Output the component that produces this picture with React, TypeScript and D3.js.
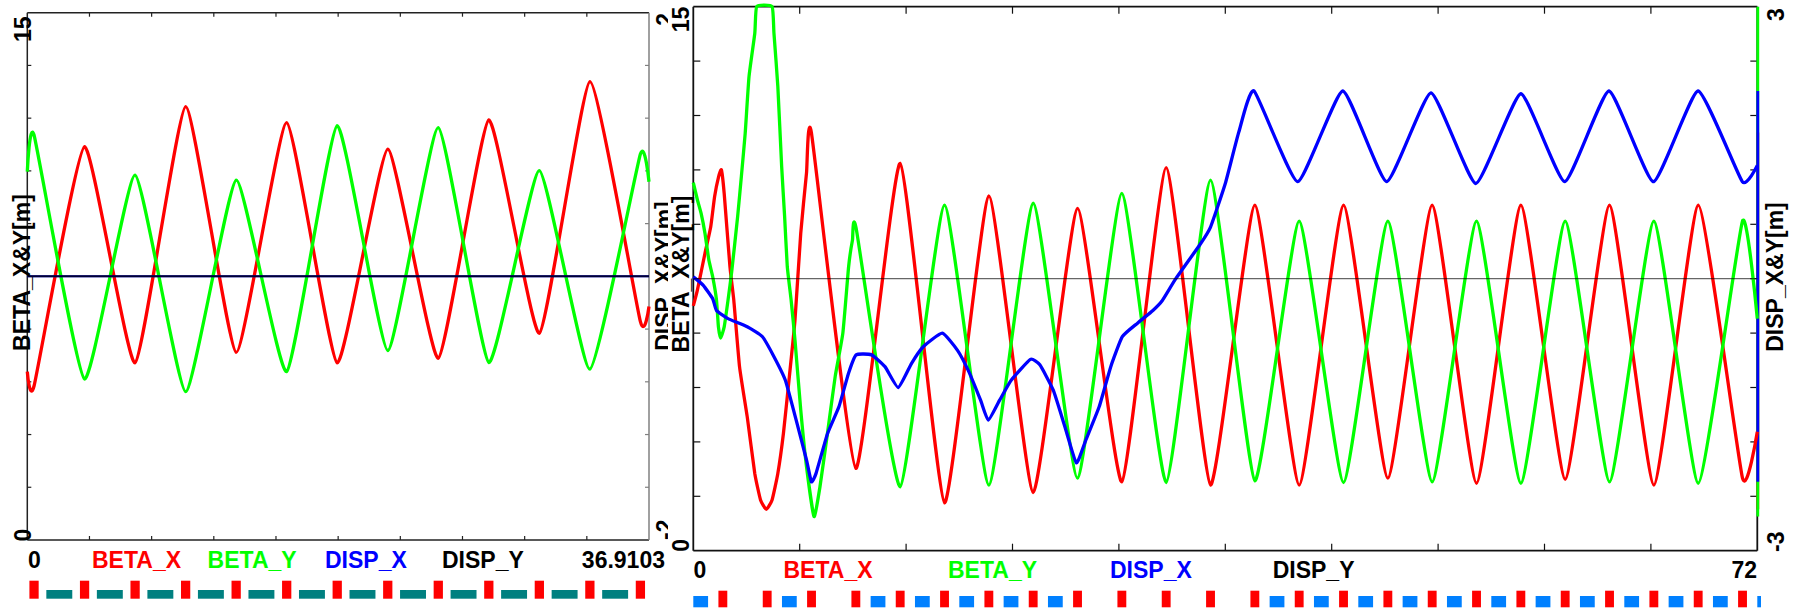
import React from "react";
import * as d3 from "d3";

type Pt = [number, number];

const W = 1794;
const H = 610;
const FONT = "'Liberation Sans', Arial, Helvetica, sans-serif";

// ---------- common legend / colours ----------
const seriesNames = ["BETA_X", "BETA_Y", "DISP_X", "DISP_Y"];
const seriesColors = ["#ff0000", "#00ff00", "#0000ff", "#000000"];
const betaAxisTitle = "BETA_X&Y[m]";
const dispAxisTitle = "DISP_X&Y[m]";

// ---------- left cell (periodic FODO, 36.9103 m) ----------
const leftLength = 36.9103;
const leftEndLabel = "36.9103";
const leftBetaTicks = ["0", "15"];
const leftDispTicks = ["-2", "2"];
const leftQuadCenters = [0.4, 3.4, 6.4, 9.4, 12.4, 15.4, 18.4, 21.4, 24.4, 27.4, 30.4, 33.4, 36.4];
const leftBendCenters = [1.9, 4.9, 7.9, 10.9, 13.9, 16.9, 19.9, 22.9, 25.9, 28.9, 31.9, 34.9];
const leftBetaX: Pt[] = [
  [0, 4.79], [0.4, 4.38], [3.4, 11.19], [6.4, 5.04], [9.4, 12.33], [12.4, 5.34],
  [15.4, 11.87], [18.4, 5.04], [21.4, 11.12], [24.4, 5.17], [27.4, 11.95],
  [30.4, 5.88], [33.4, 13.04], [36.4, 6.21], [36.91, 6.64],
];
const leftBetaY: Pt[] = [
  [0, 10.48], [0.4, 11.52], [3.4, 4.58], [6.4, 10.38], [9.4, 4.22], [12.4, 10.24],
  [15.4, 4.79], [18.4, 11.79], [21.4, 5.39], [24.4, 11.73], [27.4, 5.05],
  [30.4, 10.51], [33.4, 4.86], [36.4, 10.98], [36.91, 10.19],
];
const leftDispX: Pt[] = [[0, 0], [36.9103, 0]];
const leftDispY: Pt[] = [[0, 0], [36.9103, 0]];

// ---------- right line (72 m) ----------
const rightLength = 72;
const rightEndLabel = "72";
const rightBetaTicks = ["0", "15"];
const rightDispTicks = ["-3", "3"];
const rightQuadCenters = [2, 5, 8, 11, 14, 17, 20, 23, 26, 29, 32, 35, 38, 41, 44, 47, 50, 53, 56, 59, 62, 65, 68, 71];
const rightBendCenters = [0.5, 6.5, 12.5, 15.5, 18.5, 21.5, 24.5, 39.5, 42.5, 45.5, 48.5, 51.5, 54.5, 57.5, 60.5, 63.5, 66.5, 69.5, 72.5];
const rightBetaX: Pt[] = [
  [0, 6.75], [0.28, 7.19], [0.79, 8.2], [1.18, 8.93], [1.44, 9.76], [1.71, 10.31], [1.9, 10.5],
  [2.09, 9.85], [2.48, 7.83], [2.74, 6.91], [3.13, 5.07], [3.65, 3.69], [4.16, 2.13], [4.55, 1.4],
  [4.94, 1.14], [5.33, 1.4], [5.72, 2.13], [6.1, 3.24], [6.5, 4.8], [6.88, 6.36], [7.27, 8.75],
  [7.66, 10.41], [7.99, 11.53],
  [11, 2.27], [14, 10.68], [17, 1.32], [20, 9.78], [23, 1.6], [26, 9.44], [29, 1.9], [32, 10.56],
  [35, 1.81], [38, 9.53], [41, 1.81], [44, 9.53], [47, 2.0], [50, 9.53], [53, 1.86], [56, 9.53],
  [59, 1.97], [62, 9.53], [65, 1.81], [68, 9.53], [71, 2.0], [72, 3.28],
];
const rightBetaY: Pt[] = [
  [0, 10.15], [0.28, 9.67], [0.53, 9.3], [0.79, 8.75], [1.05, 8.02], [1.31, 7.56], [1.57, 6.91],
  [1.7, 6.17], [1.85, 5.86], [2.09, 6.17], [2.35, 6.91], [2.6, 7.7], [3.0, 9.21], [3.25, 10.31],
  [3.51, 11.5], [3.77, 13.07], [4.16, 14.26], [4.29, 15], [5.33, 15], [5.46, 14.26], [5.72, 12.8],
  [5.98, 10.59], [6.18, 9.21], [6.36, 7.83], [6.62, 6.91], [6.88, 5.81], [7.27, 3.88], [7.66, 2.32],
  [8.17, 0.94], [8.57, 1.76], [9.08, 3.24], [9.6, 4.8], [10.12, 6.0], [10.51, 7.83], [10.77, 8.56],
  [11.02, 8.89],
  [14, 1.76], [17, 9.53], [20, 1.81], [23, 9.58], [26, 2.0], [29, 9.85], [32, 1.88], [35, 10.22],
  [38, 1.93], [41, 9.09], [44, 1.88], [47, 9.09], [50, 1.9], [53, 9.09], [56, 1.86], [59, 9.09],
  [62, 1.9], [65, 9.09], [68, 1.86], [71, 9.09], [72, 6.4],
];
const rightDispX: Pt[] = [
  [0, 0.02], [0.66, -0.07], [1.31, -0.22], [1.57, -0.35], [2.35, -0.44], [3.65, -0.53], [4.68, -0.64],
  [5.46, -0.86], [6.23, -1.12], [7.01, -1.59], [7.66, -2.0], [7.99, -2.24], [8.3, -2.15], [9.08, -1.71],
  [9.86, -1.41], [10.51, -1.04], [11.02, -0.84], [12.06, -0.84], [12.97, -0.97], [13.87, -1.2],
  [14.78, -0.93], [15.56, -0.75], [16.85, -0.6], [17.88, -0.79], [18.66, -1.03], [19.44, -1.34],
  [19.96, -1.56], [20.73, -1.34], [21.51, -1.12], [22.81, -0.89], [23.45, -0.95], [24.36, -1.23],
  [25.14, -1.63], [25.92, -2.03], [26.56, -1.78], [27.47, -1.41], [28.25, -0.97], [29.03, -0.64],
  [30.06, -0.49], [31.1, -0.35], [31.74, -0.24], [32.65, 0.0], [34.3, 0.38], [35.0, 0.57],
  [36.0, 1.05], [36.92, 1.62], [37.95, 2.07], [40.9, 1.07], [43.95, 2.07], [46.92, 1.07],
  [49.92, 2.05], [52.95, 1.05], [56.0, 2.04], [58.97, 1.07], [61.96, 2.07], [64.97, 1.07],
  [67.99, 2.07], [70.99, 1.07], [72, 1.25],
];
const rightDispY: Pt[] = [[0, 0], [72, 0]];

// ---------- panel layout ----------
type Frame = { left: number; right: number; top: number; bottom: number };

interface PanelCfg {
  frame: Frame;
  length: number;
  betaMax: number;
  dispMax: number;
  betaX: Pt[];
  betaY: Pt[];
  dispX: Pt[];
  dispY: Pt[];
  quads: number[];
  bends: number[];
  quadLen: number;
  bendLen: number;
  quadBox: [number, number];
  bendBox: [number, number];
  bendColor: string;
  tickLen: number;
  frameColor: string;
  rightFrameColor: string;
  frameWidth: number;
  zeroStyle: { xColor: string; xWidth: number; yColor: string; yWidth: number; yOpacity: number };
  rangeBar: boolean;
  betaTicks: string[];
  dispTicks: string[];
  betaTickPos: { x: number; yLow: number; yHigh: number };
  dispTickPos: { x: number; yLow: number; yHigh: number };
  betaTitlePos: { x: number; y: number };
  dispTitlePos: { x: number; y: number };
  legendBaseline: number;
  legendX: number[];
  startLabelX: number;
  endLabel: string;
  endLabelX: number;
  stripClip: [number, number];
  id: string;
}

const leftCfg: PanelCfg = {
  frame: { left: 27.3, right: 649, top: 12.7, bottom: 540 },
  length: leftLength,
  betaMax: 15,
  dispMax: 2,
  betaX: leftBetaX,
  betaY: leftBetaY,
  dispX: leftDispX,
  dispY: leftDispY,
  quads: leftQuadCenters,
  bends: leftBendCenters,
  quadLen: 0.55,
  bendLen: 1.54,
  quadBox: [580.7, 18],
  bendBox: [590, 8.7],
  bendColor: "#008080",
  tickLen: 4,
  frameColor: "#222",
  rightFrameColor: "#808080",
  frameWidth: 1.5,
  zeroStyle: { xColor: "#0000ff", xWidth: 2, yColor: "#000", yWidth: 2, yOpacity: 0.8 },
  rangeBar: false,
  betaTicks: leftBetaTicks,
  dispTicks: leftDispTicks,
  betaTickPos: { x: 31, yLow: 541.5, yHigh: 16.5 },
  dispTickPos: { x: 673, yLow: 540, yHigh: 13 },
  betaTitlePos: { x: 30, y: 272.5 },
  dispTitlePos: { x: 672, y: 276 },
  legendBaseline: 568,
  legendX: [92, 207.6, 325, 442],
  startLabelX: 28,
  endLabel: leftEndLabel,
  endLabelX: 665,
  stripClip: [0, 668],
  id: "left",
};

const rightCfg: PanelCfg = {
  frame: { left: 693.3, right: 1757.3, top: 6.7, bottom: 550.7 },
  length: rightLength,
  betaMax: 15,
  dispMax: 3,
  betaX: rightBetaX,
  betaY: rightBetaY,
  dispX: rightDispX,
  dispY: rightDispY,
  quads: rightQuadCenters,
  bends: rightBendCenters,
  quadLen: 0.6,
  bendLen: 1.0,
  quadBox: [590.7, 16.6],
  bendBox: [596, 11.3],
  bendColor: "#0080ff",
  tickLen: 7,
  frameColor: "#111",
  rightFrameColor: "#111",
  frameWidth: 1.8,
  zeroStyle: { xColor: "#0000ff", xWidth: 0, yColor: "#000", yWidth: 1.2, yOpacity: 0.6 },
  rangeBar: true,
  betaTicks: rightBetaTicks,
  dispTicks: rightDispTicks,
  betaTickPos: { x: 688.5, yLow: 551.7, yHigh: 6.7 },
  dispTickPos: { x: 1783.5, yLow: 552, yHigh: 8.3 },
  betaTitlePos: { x: 689, y: 274 },
  dispTitlePos: { x: 1783, y: 277 },
  legendBaseline: 578,
  legendX: [783.5, 948, 1110, 1272.7],
  startLabelX: 693.5,
  endLabel: rightEndLabel,
  endLabelX: 1757,
  stripClip: [668, 1761],
  id: "right",
};

function RotText(props: { x: number; y: number; anchor: string; size: number; fill?: string; children: React.ReactNode }) {
  return (
    <text
      transform={`translate(${props.x},${props.y}) rotate(-90)`}
      textAnchor={props.anchor}
      fontSize={props.size}
      fontWeight="bold"
      fontFamily={FONT}
      fill={props.fill ?? "#000"}
    >
      {props.children}
    </text>
  );
}

function Panel({ cfg }: { cfg: PanelCfg }) {
  const f = cfg.frame;
  const x = d3.scaleLinear().domain([0, cfg.length]).range([f.left, f.right]);
  const yB = d3.scaleLinear().domain([0, cfg.betaMax]).range([f.bottom, f.top]).clamp(true);
  const yD = d3.scaleLinear().domain([-cfg.dispMax, cfg.dispMax]).range([f.bottom, f.top]);

  const curve = d3.curveCardinal.tension(0.55);
  const betaLine = d3.line<Pt>().x((d) => x(d[0])).y((d) => yB(d[1])).curve(curve);
  const dispLine = d3.line<Pt>().x((d) => x(d[0])).y((d) => yD(d[1])).curve(curve);

  const xTicks = d3.range(0, 11).map((i) => (cfg.length * i) / 10);
  const yTicks = d3.range(0, 11).map((i) => (cfg.betaMax * i) / 10);
  const tl = cfg.tickLen;

  const ext = (arr: Pt[]) => d3.extent(arr, (d) => d[1]) as [number, number];

  return (
    <g>
      {/* frame */}
      <line x1={f.left} x2={f.right} y1={f.top} y2={f.top} stroke={cfg.frameColor} strokeWidth={cfg.frameWidth} />
      <line x1={f.left} x2={f.right} y1={f.bottom} y2={f.bottom} stroke={cfg.frameColor} strokeWidth={cfg.frameWidth} />
      <line x1={f.left} x2={f.left} y1={f.top} y2={f.bottom} stroke={cfg.frameColor} strokeWidth={cfg.frameWidth} />
      <line x1={f.right} x2={f.right} y1={f.top} y2={f.bottom} stroke={cfg.rightFrameColor} strokeWidth={cfg.frameWidth} />

      {/* ticks */}
      {xTicks.slice(1, -1).map((t, i) => (
        <g key={`xt${i}`} stroke={cfg.frameColor} strokeWidth={1.2}>
          <line x1={x(t)} x2={x(t)} y1={f.top} y2={f.top + tl} />
          <line x1={x(t)} x2={x(t)} y1={f.bottom} y2={f.bottom - tl} />
        </g>
      ))}
      {yTicks.slice(1, -1).map((t, i) => (
        <g key={`yt${i}`} strokeWidth={1.2}>
          <line x1={f.left} x2={f.left + tl} y1={yB(t)} y2={yB(t)} stroke={cfg.frameColor} />
          <line x1={f.right} x2={f.right - tl} y1={yB(t)} y2={yB(t)} stroke={cfg.rightFrameColor} />
        </g>
      ))}

      {/* range markers on the dispersion axis */}
      {cfg.rangeBar && (
        <g strokeWidth={2.8}>
          <line x1={f.right + 0.5} x2={f.right + 0.5} y1={yB(ext(cfg.betaX)[0])} y2={yB(ext(cfg.betaX)[1])} stroke={seriesColors[0]} />
          <line x1={f.right + 0.5} x2={f.right + 0.5} y1={yB(ext(cfg.betaY)[0])} y2={yB(ext(cfg.betaY)[1])} stroke={seriesColors[1]} />
          <line x1={f.right + 0.5} x2={f.right + 0.5} y1={yD(ext(cfg.dispX)[0])} y2={yD(ext(cfg.dispX)[1])} stroke={seriesColors[2]} />
        </g>
      )}

      {/* optics functions */}
      <path d={betaLine(cfg.betaX) ?? ""} fill="none" stroke={seriesColors[0]} strokeWidth={3.3} strokeLinejoin="round" />
      <path d={betaLine(cfg.betaY) ?? ""} fill="none" stroke={seriesColors[1]} strokeWidth={3.3} strokeLinejoin="round" />
      {cfg.zeroStyle.xWidth > 0 ? (
        <path d={dispLine(cfg.dispX) ?? ""} fill="none" stroke={cfg.zeroStyle.xColor} strokeWidth={cfg.zeroStyle.xWidth} />
      ) : (
        <path d={dispLine(cfg.dispX) ?? ""} fill="none" stroke={seriesColors[2]} strokeWidth={3.3} strokeLinejoin="round" />
      )}
      <path
        d={dispLine(cfg.dispY) ?? ""}
        fill="none"
        stroke={cfg.zeroStyle.yColor}
        strokeWidth={cfg.zeroStyle.yWidth}
        strokeOpacity={cfg.zeroStyle.yOpacity}
      />

      {/* tick labels */}
      <RotText x={cfg.betaTickPos.x} y={cfg.betaTickPos.yLow} anchor="start" size={23}>{cfg.betaTicks[0]}</RotText>
      <RotText x={cfg.betaTickPos.x} y={cfg.betaTickPos.yHigh} anchor="end" size={23}>{cfg.betaTicks[1]}</RotText>
      <RotText x={cfg.dispTickPos.x} y={cfg.dispTickPos.yLow} anchor="start" size={23}>{cfg.dispTicks[0]}</RotText>
      <RotText x={cfg.dispTickPos.x} y={cfg.dispTickPos.yHigh} anchor="end" size={23}>{cfg.dispTicks[1]}</RotText>

      {/* axis titles */}
      <RotText x={cfg.betaTitlePos.x} y={cfg.betaTitlePos.y} anchor="middle" size={23}>{betaAxisTitle}</RotText>
      <RotText x={cfg.dispTitlePos.x} y={cfg.dispTitlePos.y} anchor="middle" size={23}>{dispAxisTitle}</RotText>

      {/* legend row */}
      <g fontFamily={FONT} fontWeight="bold" fontSize={23}>
        <text x={cfg.startLabelX} y={cfg.legendBaseline} fill="#000">0</text>
        {seriesNames.map((n, i) => (
          <text key={n} x={cfg.legendX[i]} y={cfg.legendBaseline} fill={seriesColors[i]}>{n}</text>
        ))}
        <text x={cfg.endLabelX} y={cfg.legendBaseline} textAnchor="end" fill="#000">{cfg.endLabel}</text>
      </g>

      {/* lattice strip */}
      <clipPath id={`strip-${cfg.id}`}>
        <rect x={cfg.stripClip[0]} y={570} width={cfg.stripClip[1] - cfg.stripClip[0]} height={40} />
      </clipPath>
      <g clipPath={`url(#strip-${cfg.id})`}>
        {cfg.bends.map((c, i) => (
          <rect
            key={`b${i}`}
            x={x(c - cfg.bendLen / 2)}
            width={x(c + cfg.bendLen / 2) - x(c - cfg.bendLen / 2)}
            y={cfg.bendBox[0]}
            height={cfg.bendBox[1]}
            fill={cfg.bendColor}
          />
        ))}
        {cfg.quads.map((c, i) => (
          <rect
            key={`q${i}`}
            x={x(c - cfg.quadLen / 2)}
            width={x(c + cfg.quadLen / 2) - x(c - cfg.quadLen / 2)}
            y={cfg.quadBox[0]}
            height={cfg.quadBox[1]}
            fill="#ff0000"
          />
        ))}
      </g>
    </g>
  );
}

export default function App() {
  return (
    <svg
      width={W}
      height={H}
      viewBox={`0 0 ${W} ${H}`}
      style={{ position: "absolute", left: 0, top: 0, display: "block" }}
    >
      <rect x={0} y={0} width={W} height={H} fill="#ffffff" />
      <Panel cfg={leftCfg} />
      {/* second figure sits on its own white sheet */}
      <rect x={668} y={0} width={W - 668} height={H} fill="#ffffff" />
      <Panel cfg={rightCfg} />
    </svg>
  );
}
